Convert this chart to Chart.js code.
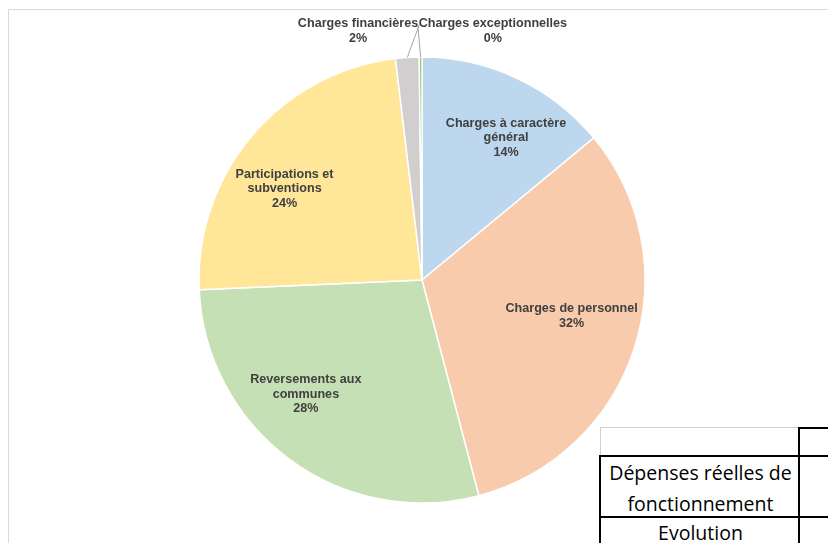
<!DOCTYPE html>
<html>
<head>
<meta charset="utf-8">
<script src="https://cdn.jsdelivr.net/npm/chart.js@4/dist/chart.umd.min.js"></script>
<style>
  html, body { margin: 0; padding: 0; background: #fff; overflow: hidden; }
  #frame { position: absolute; left: 8px; top: 9px; width: 900px; height: 600px; border: 1px solid #d9d9d9; }
  #pie { position: absolute; left: 0; top: 0; }
  .cell { position: absolute; box-sizing: border-box; font-family: "Open Sans", Lato, sans-serif; font-size: 19.5px; color: #000; text-align: center; background: #fff; white-space: nowrap; }
</style>
</head>
<body>
<div id="frame"></div>
<canvas id="pie" width="828" height="543"></canvas>

<div class="cell" style="left:600px; top:427px; width:200px; height:30px; border-top:1px solid #d0d0d0; border-left:1px solid #d0d0d0;"></div>
<div class="cell" style="left:798px; top:427px; width:60px; height:30px; border-top:2px solid #000; border-left:2px solid #000;"></div>
<div class="cell" style="left:599px; top:455px; width:201px; height:63px; border-top:2px solid #000; border-left:2px solid #000; line-height:31px; padding-top:0px;">Dépenses réelles de<br>fonctionnement</div>
<div class="cell" style="left:798px; top:455px; width:60px; height:63px; border-top:2px solid #000; border-left:2px solid #000;"></div>
<div class="cell" style="left:599px; top:516px; width:201px; height:40px; border-top:2px solid #000; border-left:2px solid #000; line-height:30px;">Evolution</div>
<div class="cell" style="left:798px; top:516px; width:60px; height:40px; border-top:2px solid #000; border-left:2px solid #000;"></div>

<script>
// parts of the budget, in % of the real operating expenses
const categories = [
    ['Charges à caractère', 'général'],
    ['Charges de personnel'],
    ['Reversements aux', 'communes'],
    ['Participations et', 'subventions'],
    ['Charges financières'],
    ['Charges exceptionnelles']
];
const shares = [14.0, 31.9, 28.4, 23.8, 1.7, 0.2];
const sliceColors = ['#bdd7ee', '#f8cbad', '#c5e0b4', '#ffe699', '#d0cece', '#8fc46a'];

// where each label sits: angle (deg from top, clockwise) and fraction of the radius
const labelSpots = [
    { a: 30.6, f: 0.74 },
    { a: 103.5, f: 0.69 },
    { a: 225.5, f: 0.73 },
    { a: 303.6, f: 0.74 },
    { a: 345.6, f: 1.153, lead: 'right' },
    { a: 15.9, f: 1.161, lead: 'left' }
];

const total = shares.reduce((s, v) => s + v, 0);

const pieLabels = {
    id: 'pieLabels',
    afterDatasetsDraw(chart) {
        const ctx = chart.ctx;
        const meta = chart.getDatasetMeta(0);
        ctx.save();
        ctx.font = 'bold 12.6px "Liberation Sans", Arial, sans-serif';
        ctx.textAlign = 'center';
        ctx.textBaseline = 'middle';
        meta.data.forEach((arc, i) => {
            const p = arc.getProps(['x', 'y', 'outerRadius', 'startAngle', 'endAngle'], true);
            const spot = labelSpots[i];
            const ang = (spot.a - 90) * Math.PI / 180;
            const cx = p.x + Math.cos(ang) * p.outerRadius * spot.f;
            const cy = p.y + Math.sin(ang) * p.outerRadius * spot.f;
            const lines = categories[i].concat([Math.round(shares[i] / total * 100) + '%']);
            const top = cy - (lines.length - 1) / 2 * 14.5;
            if (spot.lead) {
                const mid = (p.startAngle + p.endAngle) / 2;
                const ex = p.x + Math.cos(mid) * p.outerRadius;
                const ey = p.y + Math.sin(mid) * p.outerRadius;
                const w = ctx.measureText(lines[0]).width;
                const lx = spot.lead === 'right' ? cx + w / 2 + 1 : cx - w / 2 - 1;
                ctx.strokeStyle = '#a6a6a6';
                ctx.lineWidth = 1;
                ctx.beginPath();
                ctx.moveTo(lx, top + 1);
                ctx.lineTo(ex, ey);
                ctx.stroke();
            }
            ctx.fillStyle = '#404040';
            lines.forEach((t, k) => ctx.fillText(t, cx, top + k * 14.5));
        });
        ctx.restore();
    }
};

new Chart(document.getElementById('pie').getContext('2d'), {
    type: 'pie',
    data: {
        labels: categories.map(c => c.join(' ')),
        datasets: [{
            data: shares,
            backgroundColor: sliceColors,
            borderColor: '#ffffff',
            borderWidth: 1.5,
            hoverOffset: 0,
            radius: 223
        }]
    },
    options: {
        responsive: false,
        animation: false,
        layout: { padding: { top: 57, bottom: 40, left: 101, right: 85 } },
        plugins: {
            legend: { display: false },
            tooltip: { enabled: false }
        }
    },
    plugins: [pieLabels]
});
</script>
</body>
</html>
